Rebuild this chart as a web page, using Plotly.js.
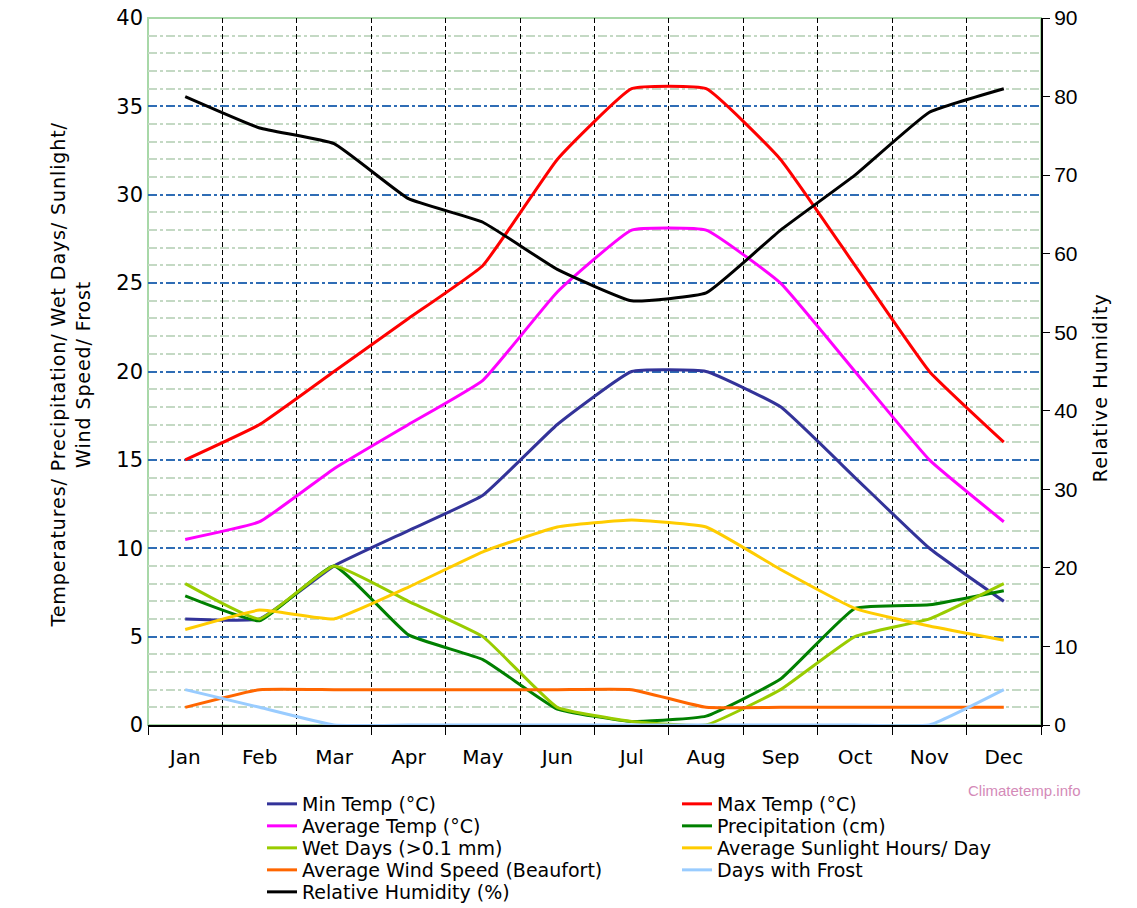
<!DOCTYPE html>
<html>
<head>
<meta charset="utf-8">
<script src="https://cdn.plot.ly/plotly-3.0.1.min.js"></script>
<style>
html,body{margin:0;padding:0;background:#fff;}
#chart{width:1137px;height:908px;}
.annotation[data-index="0"] text{letter-spacing:0.9px;}
.annotation[data-index="1"] text{letter-spacing:1.2px;}
</style>
</head>
<body>
<div id="chart"></div>
<script>
const months = ["Jan","Feb","Mar","Apr","May","Jun","Jul","Aug","Sep","Oct","Nov","Dec"];
const minTemp = [6, 6, 9, 11, 13, 17, 20, 20, 18, 14, 10, 7];
const maxTemp = [15, 17, 20, 23, 26, 32, 36, 36, 32, 26, 20, 16];
const avgTemp = [10.5, 11.5, 14.5, 17, 19.5, 24.5, 28, 28, 25, 20, 15, 11.5];
const precipitation = [7.3, 5.9, 9, 5.1, 3.7, 0.9, 0.2, 0.5, 2.6, 6.6, 6.8, 7.6];
const wetDays = [8, 6, 9, 7, 5, 1, 0.2, 0, 2, 5, 6, 8];
const sunlight = [5.4, 6.5, 6, 7.8, 9.8, 11.2, 11.6, 11.2, 8.8, 6.6, 5.6, 4.8];
const windSpeed = [1, 2, 2, 2, 2, 2, 2, 1, 1, 1, 1, 1];
const frostDays = [2, 1, 0, 0, 0, 0, 0, 0, 0, 0, 0, 2];
const humidity = [80, 76, 74, 67, 64, 58, 54, 55, 63, 70, 78, 81];

const leftTicks = [0,5,10,15,20,25,30,35,40];
const rightTicks = [0,10,20,30,40,50,60,70,80,90];

const leftTitle = "Temperatures/ Precipitation/ Wet Days/ Sunlight/<br>Wind Speed/ Frost";
const rightTitle = "Relative Humidity";
const watermark = "Climatetemp.info";

const sans = "Liberation Sans, Arial, sans-serif";
const verd = "DejaVu Sans, Verdana, sans-serif";

const legendIds = ["legend","legend2","legend3","legend4","legend5","legend6","legend7","legend8","legend9"];

function tr(name, y, color, i, axis) {
  return {
    type: "scatter", mode: "lines", name: name, x: months, y: y,
    yaxis: axis || "y", legend: legendIds[i],
    line: {color: color, width: 3, shape: "spline", smoothing: 0.35},
    hoverinfo: "x+y+name"
  };
}

const data = [
  tr("Min Temp (°C)", minTemp, "#333399", 0),
  tr("Max Temp (°C)", maxTemp, "#ff0000", 1),
  tr("Average Temp (°C)", avgTemp, "#ff00ff", 2),
  tr("Precipitation (cm)", precipitation, "#008000", 3),
  tr("Wet Days (>0.1 mm)", wetDays, "#99cc00", 4),
  tr("Average Sunlight Hours/ Day", sunlight, "#ffcc00", 5),
  tr("Average Wind Speed (Beaufort)", windSpeed, "#ff6600", 6),
  tr("Days with Frost", frostDays, "#99ccff", 7),
  tr("Relative Humidity (%)", humidity, "#000000", 8, "y2")
];

const W = 1137, H = 908;
const colX = [262 / W, 677 / W];
const rowY = [804, 826, 848, 870, 892];

function legendAt(i) {
  const col = i % 2, row = Math.floor(i / 2);
  return {
    orientation: "v", xref: "container", yref: "container",
    x: colX[col], y: 1 - rowY[row] / H, xanchor: "left", yanchor: "middle",
    font: {family: verd, size: 19, color: "#000"},
    bgcolor: "rgba(0,0,0,0)", borderwidth: 0,
    itemclick: false, itemdoubleclick: false
  };
}

const layout = {
  width: W, height: H,
  margin: {l: 148, r: 96, t: 18, b: 183, autoexpand: false},
  paper_bgcolor: "#fff", plot_bgcolor: "#fff",
  showlegend: true,
  xaxis: {
    type: "category", tickson: "boundaries", range: [-0.5, 11.5],
    tickfont: {family: verd, size: 20, color: "#000"},
    ticks: "outside", ticklen: 8, tickcolor: "#000", tickwidth: 1,
    ticklabelstandoff: 13,
    showline: true, linecolor: "#000", linewidth: 2,
    showgrid: true, gridcolor: "#000", griddash: "5px,3px", gridwidth: 1,
    zeroline: false, fixedrange: true
  },
  yaxis: {
    range: [0, 40], tickvals: leftTicks, ticktext: leftTicks.map(String),
    tickfont: {family: verd, size: 21, color: "#000"},
    ticks: "", showline: false, ticklabelstandoff: 4,
    showgrid: true, gridcolor: "#2f6db5", griddash: "dashdot", gridwidth: 1.5,
    minor: {dtick: 1, tick0: 0, showgrid: true, gridcolor: "#c4d9c4", gridwidth: 1.5, ticks: ""},
    zeroline: false, fixedrange: true
  },
  yaxis2: {
    overlaying: "y", side: "right", range: [0, 90],
    tickvals: rightTicks, ticktext: rightTicks.map(String),
    tickfont: {family: sans, size: 21, color: "#000"},
    ticks: "outside", ticklen: 7, tickcolor: "#000",
    showline: true, linecolor: "#000", linewidth: 2,
    showgrid: false, zeroline: false, fixedrange: true
  },
  shapes: [
    {type: "rect", xref: "paper", yref: "paper", x0: 0, x1: 1, y0: 0, y1: 1,
     line: {color: "#a8d8a8", width: 2}, layer: "below"}
  ],
  annotations: [
    {text: leftTitle, xref: "paper", yref: "paper", x: (70 - 148) / 893, y: (725 - 375) / 707,
     xanchor: "center", yanchor: "middle", textangle: -90, showarrow: false,
     font: {family: verd, size: 19, color: "#000"}},
    {text: rightTitle, xref: "paper", yref: "paper", x: (1100 - 148) / 893, y: (725 - 388) / 707,
     xanchor: "center", yanchor: "middle", textangle: -90, showarrow: false,
     font: {family: verd, size: 19, color: "#000"}},
    {text: watermark, xref: "paper", yref: "paper", x: (1083 - 148) / 893, y: -0.092,
     xanchor: "right", yanchor: "middle", showarrow: false,
     font: {family: sans, size: 15, color: "#d48ab8"}}
  ]
};
legendIds.forEach((id, i) => { layout[id] = legendAt(i); });

Plotly.newPlot("chart", data, layout, {displayModeBar: false});
</script>
</body>
</html>
